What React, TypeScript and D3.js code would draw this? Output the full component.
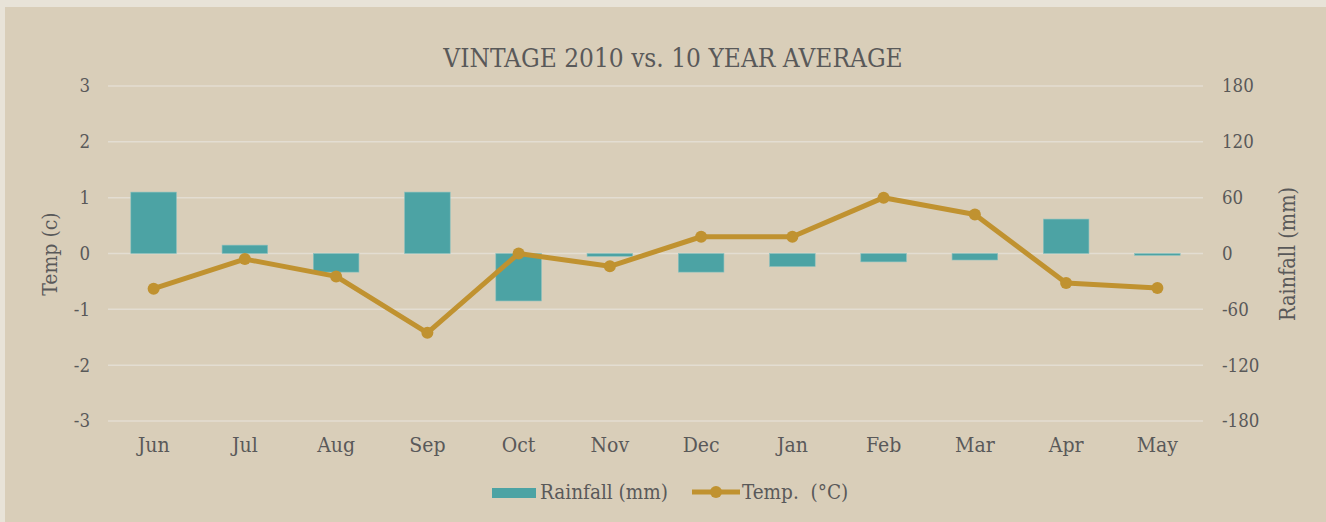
import React, { useRef, useEffect } from 'react';
import * as d3 from 'd3';

const months = ['Jun', 'Jul', 'Aug', 'Sep', 'Oct', 'Nov', 'Dec', 'Jan', 'Feb', 'Mar', 'Apr', 'May'];
const rainfall = [66, 9, -20, 66, -51, -3, -20, -14, -9, -7, 37, -2];
const temp = [-0.63, -0.1, -0.41, -1.42, 0.0, -0.23, 0.3, 0.3, 1.0, 0.7, -0.53, -0.62];
const tempTicks = [3, 2, 1, 0, -1, -2, -3];
const rainTicks = [180, 120, 60, 0, -60, -120, -180];

const W = 1326;
const H = 522;
const FONT = '"DejaVu Serif", serif';
const TEXT = '#595959';

const App: React.FC = () => {
  const ref = useRef<SVGSVGElement | null>(null);

  useEffect(() => {
    if (!ref.current) return;
    const svg = d3.select(ref.current);
    svg.selectAll('*').remove();

    const txt = (sel: any, size: number) =>
      sel.attr('font-family', FONT).attr('font-size', size).attr('fill', TEXT)
        .style('font-stretch', 'condensed');

    // frame
    svg.append('rect').attr('width', W).attr('height', H).attr('fill', '#e8e3d8');
    svg.append('rect').attr('x', 5).attr('y', 7).attr('width', W - 5).attr('height', H - 7).attr('fill', '#d9ceb9');

    const left = 108, right = 1203, top = 86, bottom = 421;
    const x = d3.scaleBand().domain(months).range([left, right]).paddingInner(0.5).paddingOuter(0.25);
    const xc = d3.scaleBand().domain(months).range([left, right]);
    const yT = d3.scaleLinear().domain([-3, 3]).range([bottom, top]);
    const yR = d3.scaleLinear().domain([-180, 180]).range([bottom, top]);

    // title
    txt(svg.append('text')
      .attr('x', 673).attr('y', 67)
      .attr('text-anchor', 'middle'), 26)
      .text('VINTAGE 2010 vs. 10 YEAR AVERAGE');

    // gridlines
    svg.append('g').selectAll('line').data(tempTicks).join('line')
      .attr('x1', left).attr('x2', right)
      .attr('y1', d => yT(d)).attr('y2', d => yT(d))
      .attr('stroke', '#e3ddd2').attr('stroke-width', 1.5);

    // left axis labels
    txt(svg.append('g').selectAll('text').data(tempTicks).join('text')
      .attr('x', 90).attr('y', d => yT(d)).attr('dy', '0.35em')
      .attr('text-anchor', 'end'), 18.5)
      .text(d => String(d));

    // right axis labels
    txt(svg.append('g').selectAll('text').data(rainTicks).join('text')
      .attr('x', 1222).attr('y', d => yR(d)).attr('dy', '0.35em')
      .attr('text-anchor', 'start'), 18.5)
      .text(d => String(d));

    // axis titles
    txt(svg.append('text')
      .attr('transform', `translate(57,254) rotate(-90)`)
      .attr('text-anchor', 'middle'), 21)
      .text('Temp (c)');
    txt(svg.append('text')
      .attr('transform', `translate(1295,254) rotate(-90)`)
      .attr('text-anchor', 'middle'), 21.5)
      .text('Rainfall (mm)');

    // bars
    svg.append('g').selectAll('rect').data(rainfall).join('rect')
      .attr('x', (_, i) => x(months[i]) as number)
      .attr('width', x.bandwidth())
      .attr('y', d => Math.min(yR(d), yR(0)))
      .attr('height', d => Math.max(1.5, Math.abs(yR(d) - yR(0))))
      .attr('fill', '#4ca3a4')
      .attr('stroke', '#8cc2bf').attr('stroke-width', 0.6);

    // line
    const cx = (i: number) => (xc(months[i]) as number) + xc.bandwidth() / 2;
    const line = d3.line<number>().x((_, i) => cx(i)).y(d => yT(d));
    svg.append('path')
      .datum(temp)
      .attr('fill', 'none')
      .attr('stroke', '#c09230')
      .attr('stroke-width', 5)
      .attr('stroke-linejoin', 'round')
      .attr('d', line);
    svg.append('g').selectAll('circle').data(temp).join('circle')
      .attr('cx', (_, i) => cx(i)).attr('cy', d => yT(d)).attr('r', 6)
      .attr('fill', '#c09230');

    // month labels
    txt(svg.append('g').selectAll('text').data(months).join('text')
      .attr('x', (_, i) => cx(i)).attr('y', 452)
      .attr('text-anchor', 'middle'), 21)
      .text(d => d);

    // legend
    const lg = svg.append('g');
    lg.append('rect').attr('x', 492).attr('y', 488).attr('width', 44).attr('height', 10).attr('fill', '#4ca3a4');
    txt(lg.append('text').attr('x', 540).attr('y', 499), 20.5)
      .text('Rainfall (mm)');
    lg.append('line').attr('x1', 692).attr('x2', 740).attr('y1', 492).attr('y2', 492)
      .attr('stroke', '#c09230').attr('stroke-width', 5);
    lg.append('circle').attr('cx', 716).attr('cy', 492).attr('r', 6).attr('fill', '#c09230');
    txt(lg.append('text').attr('x', 742).attr('y', 499), 20.5)
      .style('white-space', 'pre')
      .text('Temp.  (°C)');
  }, []);

  return (
    <svg
      ref={ref}
      width={W}
      height={H}
      style={{ position: 'absolute', left: 0, top: 0, display: 'block' }}
    />
  );
};

export default App;
